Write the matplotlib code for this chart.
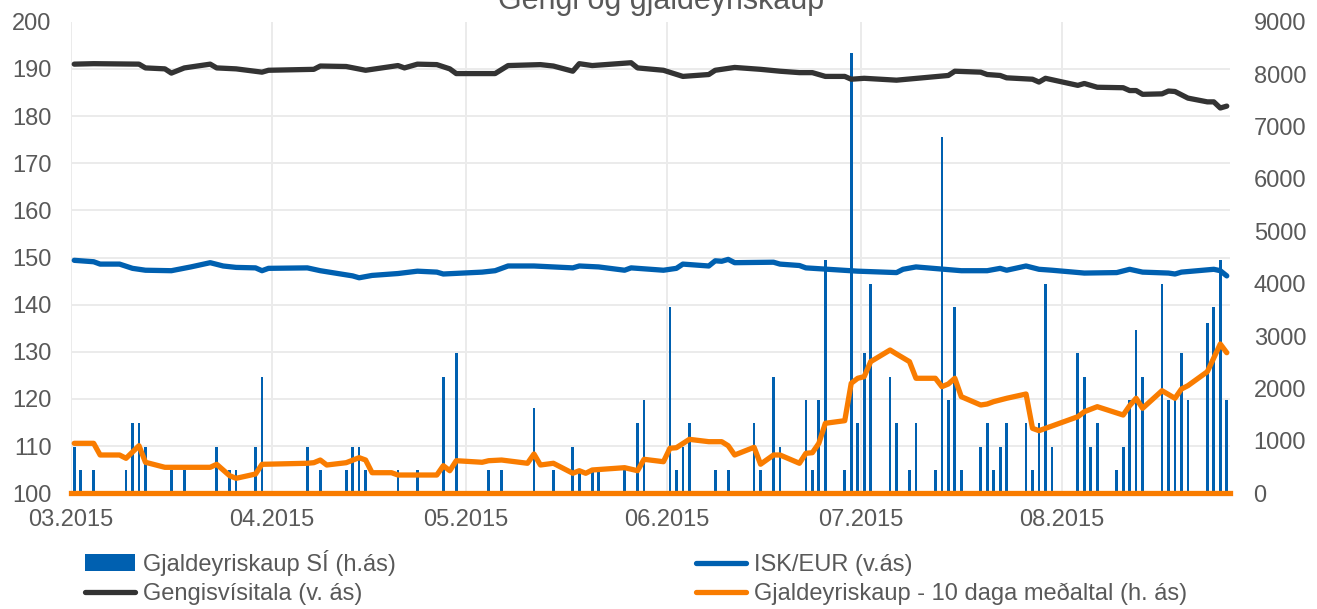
import numpy as np
import pandas as pd
import matplotlib
matplotlib.use("Agg")
import matplotlib.pyplot as plt
import matplotlib.dates as mdates
from matplotlib.patches import Patch
from matplotlib.lines import Line2D

# =========================
# GÖGN (lesin af myndinni)
# =========================

# Gjaldeyriskaup SÍ, m.kr. (hægri ás)
kaup_dagar = [
    "03-02", "03-03", "03-05", "03-10", "03-11", "03-12", "03-13", "03-17", "03-19", "03-24",
    "03-26", "03-27", "03-30", "03-31",
    "04-07", "04-09", "04-13", "04-14", "04-15", "04-16", "04-21", "04-24", "04-28", "04-30",
    "05-05", "05-07", "05-12", "05-15", "05-18", "05-19", "05-21", "05-22", "05-26", "05-28", "05-29",
    "06-02", "06-03", "06-04", "06-05", "06-09", "06-11", "06-15", "06-16", "06-18", "06-19",
    "06-23", "06-24", "06-25", "06-26", "06-29", "06-30",
    "07-01", "07-02", "07-03", "07-06", "07-07", "07-09", "07-10", "07-13", "07-14", "07-15",
    "07-16", "07-17", "07-20", "07-21", "07-22", "07-23", "07-24", "07-27", "07-28", "07-29",
    "07-30", "07-31",
    "08-04", "08-05", "08-06", "08-07", "08-10", "08-11", "08-12", "08-13", "08-14", "08-17",
    "08-18", "08-19", "08-20", "08-21", "08-24", "08-25", "08-26", "08-27",
]
kaup_upphaed = [
    890, 445, 445, 445, 1335, 1335, 890, 445, 445, 890,
    445, 445, 890, 2225,
    890, 445, 445, 890, 890, 445, 445, 445, 2225, 2670,
    445, 445, 1620, 445, 890, 445, 445, 445, 445, 1335, 1780,
    3560, 445, 890, 1335, 445, 445, 1335, 445, 2225, 890,
    1780, 445, 1780, 4450, 445, 8400,
    1335, 2670, 4000, 2225, 1335, 445, 1335, 445, 6800, 1780,
    3560, 445, 890, 1335, 445, 890, 1335, 1335, 445, 1335,
    4000, 890,
    2670, 2225, 890, 1335, 445, 890, 1780, 3115, 2225, 4000,
    1780, 1780, 2670, 1780, 3250, 3560, 4450, 1780,
]

# Gengisvísitala (vinstri ás)
gv_dagar = [
    "03-02", "03-05", "03-12", "03-13", "03-16", "03-17", "03-19", "03-23", "03-24", "03-27",
    "03-31", "04-01", "04-08", "04-09", "04-13", "04-16", "04-21", "04-22", "04-24", "04-27",
    "04-29", "04-30", "05-06", "05-08", "05-13", "05-15", "05-18", "05-19", "05-21", "05-27",
    "05-28", "06-01", "06-04", "06-08", "06-09", "06-12", "06-16", "06-19", "06-22", "06-24",
    "06-26", "06-29", "06-30", "07-02", "07-07", "07-15", "07-16", "07-20", "07-21", "07-23",
    "07-24", "07-28", "07-29", "07-30", "08-04", "08-05", "08-07", "08-11", "08-12", "08-13",
    "08-14", "08-17", "08-18", "08-19", "08-21", "08-24", "08-25", "08-26", "08-27",
]
gv_gildi = [
    191.0, 191.1, 191.0, 190.2, 190.0, 189.1, 190.2, 191.0, 190.2, 190.0,
    189.3, 189.7, 189.9, 190.6, 190.5, 189.7, 190.7, 190.2, 191.0, 190.9,
    190.0, 189.0, 189.0, 190.7, 190.9, 190.6, 189.5, 191.1, 190.7, 191.3,
    190.2, 189.7, 188.4, 188.8, 189.7, 190.3, 189.9, 189.5, 189.2, 189.2,
    188.4, 188.4, 187.8, 188.0, 187.6, 188.6, 189.5, 189.3, 188.8, 188.6,
    188.1, 187.8, 187.2, 188.0, 186.5, 186.9, 186.1, 186.0, 185.4, 185.4,
    184.6, 184.7, 185.3, 185.2, 183.8, 183.0, 183.0, 181.7, 182.1,
]

# ISK/EUR (vinstri ás)
eur_dagar = [
    "03-02", "03-05", "03-06", "03-09", "03-11", "03-13", "03-17", "03-20", "03-23", "03-25",
    "03-27", "03-30", "03-31", "04-01", "04-07", "04-09", "04-14", "04-15", "04-17", "04-21",
    "04-24", "04-27", "04-28", "05-04", "05-06", "05-08", "05-12", "05-18", "05-19", "05-22",
    "05-26", "05-27", "06-01", "06-03", "06-04", "06-08", "06-09", "06-10", "06-11", "06-12",
    "06-18", "06-19", "06-22", "06-23", "07-01", "07-07", "07-08", "07-10", "07-17", "07-21",
    "07-23", "07-24", "07-27", "07-29", "07-31", "08-05", "08-10", "08-12", "08-14", "08-18",
    "08-19", "08-20", "08-25", "08-26", "08-27",
]
eur_gildi = [
    149.4, 149.1, 148.6, 148.6, 147.7, 147.3, 147.2, 148.0, 148.9, 148.2,
    147.9, 147.8, 147.2, 147.7, 147.8, 147.2, 146.1, 145.7, 146.2, 146.6,
    147.1, 146.9, 146.5, 146.9, 147.2, 148.2, 148.2, 147.8, 148.2, 148.0,
    147.3, 147.8, 147.3, 147.7, 148.6, 148.2, 149.3, 149.2, 149.6, 148.9,
    149.0, 148.6, 148.3, 147.8, 147.1, 146.8, 147.5, 148.0, 147.2, 147.2,
    147.7, 147.3, 148.2, 147.5, 147.3, 146.7, 146.8, 147.5, 146.9, 146.7,
    146.5, 146.9, 147.5, 147.2, 146.1,
]

# Gjaldeyriskaup - 10 daga meðaltal (hægri ás)
med_dagar = [
    "03-02", "03-05", "03-06", "03-09", "03-10", "03-12", "03-13", "03-16", "03-23", "03-24",
    "03-26", "03-27", "03-30", "03-31", "04-07", "04-08", "04-09", "04-10", "04-13", "04-15",
    "04-16", "04-17", "04-20", "04-21", "04-27", "04-28", "04-29", "04-30", "05-04", "05-05",
    "05-07", "05-11", "05-12", "05-13", "05-15", "05-18", "05-19", "05-20", "05-21", "05-26",
    "05-28", "05-29", "06-01", "06-02", "06-03", "06-05", "06-08", "06-10", "06-11", "06-12",
    "06-15", "06-16", "06-18", "06-19", "06-22", "06-23", "06-24", "06-25", "06-26", "06-29",
    "06-30", "07-01", "07-02", "07-03", "07-06", "07-07", "07-09", "07-10", "07-13", "07-14",
    "07-15", "07-16", "07-17", "07-20", "07-21", "07-22", "07-24", "07-27", "07-28", "07-29",
    "08-04", "08-05", "08-07", "08-11", "08-12", "08-13", "08-14", "08-17", "08-19", "08-20",
    "08-21", "08-24", "08-26", "08-27",
]
med_gildi = [
    954, 954, 731, 731, 668, 908, 592, 496, 496, 553,
    336, 286, 368, 553, 573, 584, 635, 540, 584, 680,
    635, 393, 393, 349, 349, 527, 431, 622, 592, 622,
    635, 573, 750, 540, 573, 382, 431, 382, 445, 489,
    431, 649, 603, 859, 870, 1030, 985, 985, 908, 731,
    878, 555, 731, 731, 573, 763, 775, 954, 1336, 1386,
    2099, 2195, 2226, 2512, 2735, 2659, 2512, 2195, 2195, 2035,
    2086, 2195, 1844, 1685, 1704, 1749, 1813, 1895, 1240, 1195,
    1462, 1557, 1653, 1494, 1672, 1813, 1622, 1958, 1813, 1990,
    2054, 2321, 2849, 2683,
]

titill = "Gengi og gjaldeyriskaup"
nofn = ["Gjaldeyriskaup SÍ (h.ás)", "Gengisvísitala (v. ás)",
        "ISK/EUR (v.ás)", "Gjaldeyriskaup - 10 daga meðaltal (h. ás)"]

# =========================
# LITIR OG LETUR
# =========================
BLAR = "#0060B0"
SVARTUR = "#333333"
APPELSINA = "#F97C00"
GRATT = "#595959"
GRID = "#EBEBEB"
LETUR = 17

plt.rcParams['font.family'] = ['Liberation Sans', 'DejaVu Sans']


def dags(listi):
    # punktar eru á miðjum degi (eins og dagsetningaás í Excel)
    return pd.to_datetime(["2015-" + d for d in listi]) + pd.Timedelta(hours=12)


upphaf = pd.Timestamp("2015-03-02")
endir = pd.Timestamp("2015-08-28")
manudir = pd.date_range(upphaf, periods=6, freq=pd.DateOffset(months=1))

# =========================
# MYND
# =========================
W, H = 1317, 609
fig = plt.figure(figsize=(W / 100, H / 100), dpi=100)
ax = fig.add_axes([71 / W, 1 - 493.3 / H, (1230 - 71) / W, (493.3 - 21.7) / H])
ax2 = ax.twinx()
ax.set_zorder(ax2.get_zorder() + 1)
ax.patch.set_visible(False)

# hnitanet (á hægri ás svo súlurnar liggi ofan á)
ax2.set_ylim(0, 9000)
ax2.set_yticks(np.arange(900, 9001, 900), minor=True)
ax2.grid(which='minor', axis='y', color=GRID, lw=1.4, zorder=0)
for m in manudir:
    ax2.axvline(m, color=GRID, lw=1.4, zorder=0)

ax2.bar(dags(kaup_dagar), kaup_upphaed, width=0.42, color=BLAR, zorder=2)
ax2.plot(dags(med_dagar), med_gildi, color=APPELSINA, lw=3.8,
         solid_joinstyle='round', solid_capstyle='round', zorder=3)

ax.plot(dags(gv_dagar), gv_gildi, color=SVARTUR, lw=3.8,
        solid_joinstyle='round', solid_capstyle='round')
ax.plot(dags(eur_dagar), eur_gildi, color=BLAR, lw=3.8,
        solid_joinstyle='round', solid_capstyle='round')

ax.set_xlim(upphaf, endir)
ax.set_ylim(100, 200)
ax.set_yticks(np.arange(100, 201, 10))
ax2.set_yticks(np.arange(0, 9001, 1000))
ax.set_xticks(manudir)
ax.xaxis.set_major_formatter(mdates.DateFormatter('%m.%Y'))

for s in ax.spines.values():
    s.set_visible(False)
for s in ax2.spines.values():
    s.set_visible(False)
ax2.spines['bottom'].set_visible(True)
ax2.spines['bottom'].set_color(APPELSINA)
ax2.spines['bottom'].set_linewidth(3.8)

ax.tick_params(axis='y', length=0, labelsize=LETUR, colors=GRATT, pad=14)
ax.tick_params(axis='x', length=0, labelsize=LETUR, colors=GRATT, pad=11)
ax2.tick_params(axis='y', which='both', length=0, labelsize=LETUR, colors=GRATT, pad=17)

fig.text(661 / W, 1 - 9.5 / H, titill, ha='center', va='baseline',
         fontsize=22, color=GRATT)

# =========================
# SKÝRINGAR
# =========================
handles = [
    Patch(facecolor=BLAR, edgecolor='none'),
    Line2D([], [], color=SVARTUR, lw=3.8, solid_capstyle='round'),
    Line2D([], [], color=BLAR, lw=3.8, solid_capstyle='round'),
    Line2D([], [], color=APPELSINA, lw=3.8, solid_capstyle='round'),
]
leg = fig.legend(handles, nofn, ncol=2, loc='upper left',
                 bbox_to_anchor=(85 / W, 1 - 550 / H), frameon=False,
                 fontsize=LETUR, handlelength=2.12, handletextpad=0.34,
                 columnspacing=12.7, labelspacing=0.3, borderpad=0,
                 borderaxespad=0)
for t in leg.get_texts():
    t.set_color(GRATT)

fig.savefig("out.png", dpi=100)
